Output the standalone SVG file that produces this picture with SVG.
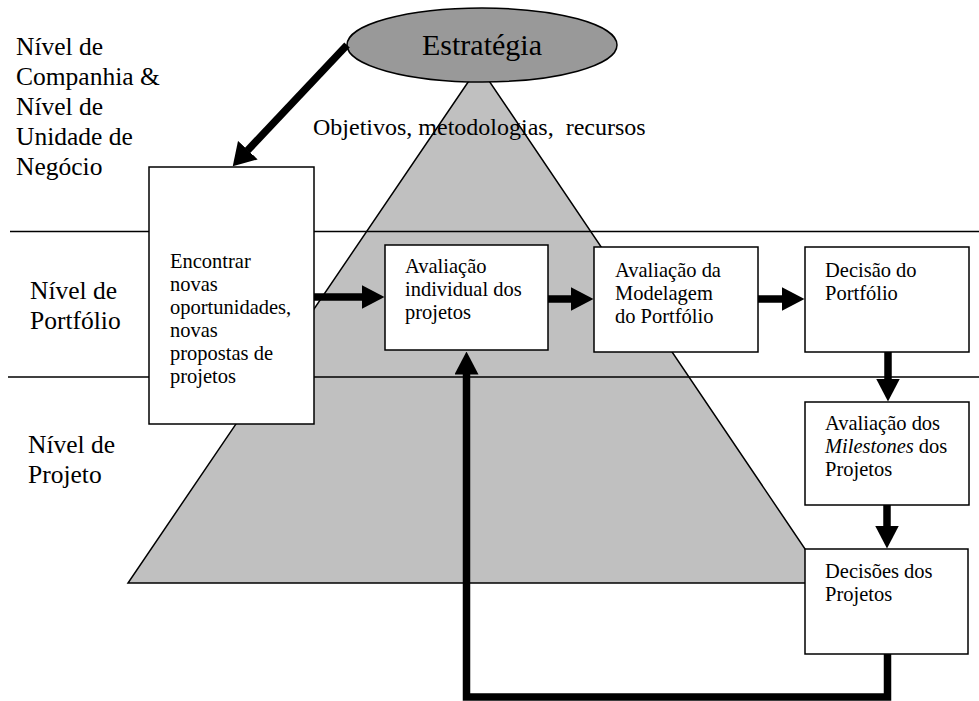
<svg xmlns="http://www.w3.org/2000/svg" width="979" height="701" viewBox="0 0 979 701">
<style>
.box {fill: #fff; stroke: #000; stroke-width: 1.5}
.sep {stroke: #000; stroke-width: 1.5}
.arr {stroke: #000; stroke-width: 7.5; fill: none}
</style>
<defs>
<marker id="head" markerUnits="userSpaceOnUse" viewBox="0 0 23 24" markerWidth="23" markerHeight="24" refX="0.5" refY="12" orient="auto">
<path d="M0,0 L23,12 L0,24 z" fill="#000"/>
</marker>
<marker id="head2" markerUnits="userSpaceOnUse" viewBox="0 0 22 27" markerWidth="22" markerHeight="27" refX="0.5" refY="13.5" orient="auto">
<path d="M0,0 L22,13.5 L0,27 z" fill="#000"/>
</marker>
</defs>

<g id="pyramid">
<polygon points="479,66 128,583 828,583" fill="#c0c0c0" stroke="#000" stroke-width="1.5"/>
</g>

<g id="separators">
<line class="sep" x1="10" y1="231.5" x2="979" y2="231.5"/>
<line class="sep" x1="8" y1="377" x2="979" y2="377"/>
</g>

<g id="strategy">
<ellipse cx="482" cy="45" rx="135" ry="37" fill="#999999" stroke="#000" stroke-width="1.5"/>
<text x="482" y="55" font-family="Liberation Serif, serif" font-size="30" text-anchor="middle">Estratégia</text>
</g>

<g id="labels" font-family="Liberation Serif, serif" font-size="24">
<text transform="translate(16,55) scale(1.0625)">Nível de</text>
<text transform="translate(16,85) scale(1.0625)">Companhia &amp;</text>
<text transform="translate(16,115) scale(1.0625)">Nível de</text>
<text transform="translate(16,145) scale(1.0625)">Unidade de</text>
<text transform="translate(16,175) scale(1.0625)">Negócio</text>
<text transform="translate(30,299) scale(1.0625)">Nível de</text>
<text transform="translate(30,329) scale(1.0625)">Portfólio</text>
<text transform="translate(28,453) scale(1.0625)">Nível de</text>
<text transform="translate(28,483) scale(1.0625)">Projeto</text>
<text x="313" y="135" xml:space="preserve">Objetivos, metodologias,  recursos</text>
</g>

<g id="connectors">
<line class="arr" x1="347" y1="45" x2="247.5" y2="150.5" marker-end="url(#head2)"/>
<line class="arr" x1="314" y1="297" x2="362" y2="297" marker-end="url(#head)"/>
<line class="arr" x1="548" y1="299" x2="571" y2="299" marker-end="url(#head)"/>
<line class="arr" x1="758" y1="299" x2="782" y2="299" marker-end="url(#head)"/>
<line class="arr" x1="888" y1="352" x2="888" y2="379" marker-end="url(#head)"/>
<line class="arr" x1="887" y1="505" x2="887" y2="526" marker-end="url(#head)"/>
<polyline class="arr" points="887.5,654 887.5,697 466.5,697 466.5,374" marker-end="url(#head)"/>
</g>

<g id="n-encontrar" font-family="Liberation Serif, serif" font-size="24">
<rect class="box" x="149" y="167" width="165" height="257"/>
<text transform="translate(170,268) scale(0.854)">Encontrar</text>
<text transform="translate(170,291) scale(0.854)">novas</text>
<text transform="translate(170,314) scale(0.854)">oportunidades,</text>
<text transform="translate(170,337) scale(0.854)">novas</text>
<text transform="translate(170,360) scale(0.854)">propostas de</text>
<text transform="translate(170,383) scale(0.854)">projetos</text>
</g>

<g id="n-avaliacao-individual" font-family="Liberation Serif, serif" font-size="24">
<rect class="box" x="385" y="245" width="163" height="105"/>
<text transform="translate(405,273) scale(0.854)">Avaliação</text>
<text transform="translate(405,296) scale(0.854)">individual dos</text>
<text transform="translate(405,319) scale(0.854)">projetos</text>
</g>

<g id="n-modelagem" font-family="Liberation Serif, serif" font-size="24">
<rect class="box" x="594" y="247" width="164" height="105"/>
<text transform="translate(615,277) scale(0.854)">Avaliação da</text>
<text transform="translate(615,300) scale(0.854)">Modelagem</text>
<text transform="translate(615,323) scale(0.854)">do Portfólio</text>
</g>

<g id="n-decisao-portfolio" font-family="Liberation Serif, serif" font-size="24">
<rect class="box" x="805" y="247" width="164" height="105"/>
<text transform="translate(825,277) scale(0.854)">Decisão do</text>
<text transform="translate(825,300) scale(0.854)">Portfólio</text>
</g>

<g id="n-milestones" font-family="Liberation Serif, serif" font-size="24">
<rect class="box" x="805" y="402" width="164" height="103"/>
<text transform="translate(825,430) scale(0.854)">Avaliação dos</text>
<text transform="translate(825,453) scale(0.854)"><tspan font-style="italic">Milestones</tspan> dos</text>
<text transform="translate(825,476) scale(0.854)">Projetos</text>
</g>

<g id="n-decisoes-projetos" font-family="Liberation Serif, serif" font-size="24">
<rect class="box" x="805" y="549" width="163" height="105"/>
<text transform="translate(825,578) scale(0.854)">Decisões dos</text>
<text transform="translate(825,601) scale(0.854)">Projetos</text>
</g>
</svg>
